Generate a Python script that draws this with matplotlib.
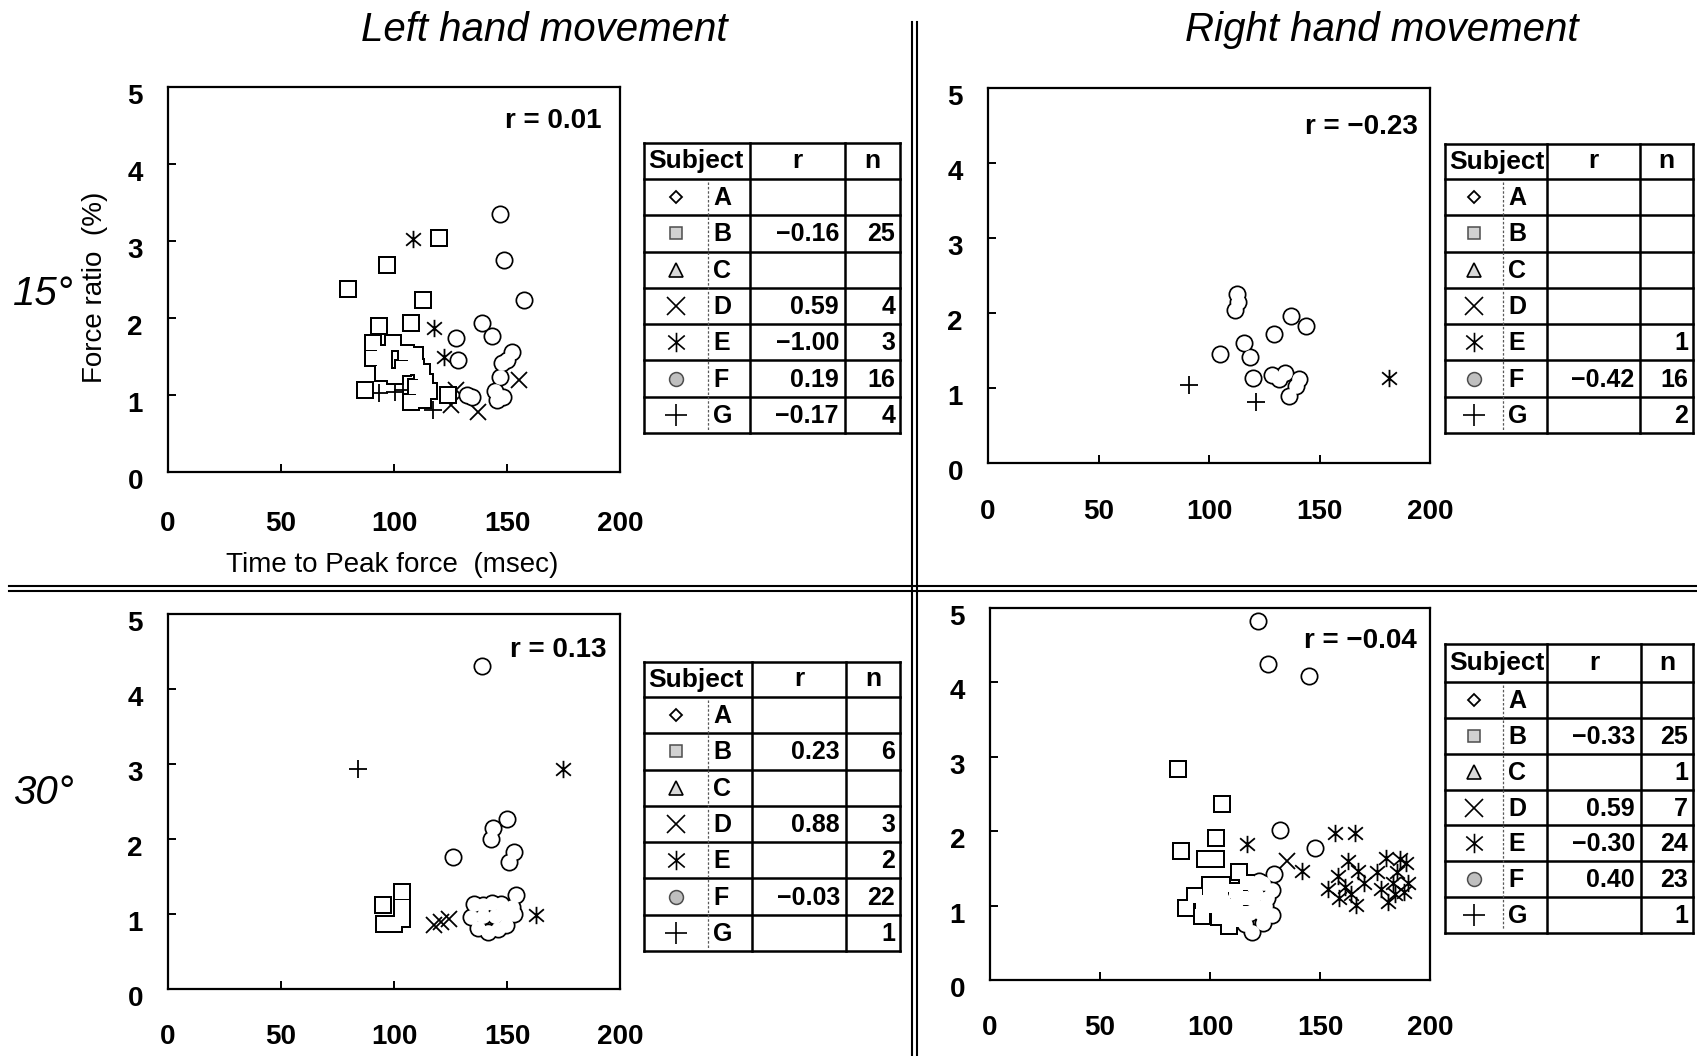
import numpy as np
import matplotlib
matplotlib.use("Agg")
import matplotlib.pyplot as plt
from matplotlib.path import Path
from matplotlib.transforms import ScaledTranslation

W, H = 1697, 1056
plt.rcParams['font.family'] = ['Liberation Sans', 'DejaVu Sans']

SUBJECTS = ['A', 'B', 'C', 'D', 'E', 'F', 'G']
X_TICKS = [0, 50, 100, 150, 200]
Y_TICKS = [0, 1, 2, 3, 4, 5]
MINUS = '\u2212'

# ---- points: (time to peak force [msec], force ratio [%]) ----
# 15 deg, left hand
L15_B = [(79.7, 2.38), (96.8, 2.69), (119.9, 3.04), (112.8, 2.23), (107.5, 1.94),
         (93.2, 1.89), (90.8, 1.67), (90.8, 1.48), (95.7, 1.54), (99.4, 1.67), (95.7, 1.40),
         (105.4, 1.54), (109.1, 1.52), (109.8, 1.37), (103.9, 1.35), (95.0, 1.28), (113.5, 1.17),
         (109.8, 1.11), (107.6, 0.91), (112.8, 0.94), (123.9, 1.00), (87.3, 1.07), (100.5, 1.25),
         (112.5, 1.30), (115.5, 1.05)]
L15_D = [(155.5, 1.19), (137.3, 0.78), (127.6, 1.06), (125.4, 0.87)]
L15_E = [(108.3, 3.03), (117.7, 1.87), (122.0, 1.50)]
L15_F = [(146.9, 3.35), (148.8, 2.75), (157.6, 2.24), (127.6, 1.74), (128.4, 1.46), (138.8, 1.93),
         (143.2, 1.76), (152.1, 1.56), (147.7, 1.41), (146.9, 1.24), (145.4, 0.94), (148.4, 0.98),
         (134.3, 0.98), (132.1, 1.00), (150.0, 1.45), (144.5, 1.05)]
L15_G = [(93.5, 1.02), (100.5, 1.04), (103.9, 1.06), (117.2, 0.80)]

# 15 deg, right hand
R15_E = [(181.3, 1.13)]
R15_F = [(112.8, 2.26), (111.6, 2.04), (113.2, 2.15), (104.8, 1.45), (115.7, 1.60), (118.7, 1.42),
         (119.9, 1.14), (129.2, 1.72), (137.2, 1.96), (143.7, 1.83), (128.5, 1.17), (134.5, 1.20),
         (139.5, 1.03), (136.0, 0.90), (131.5, 1.12), (140.5, 1.12)]
R15_G = [(91.0, 1.04), (121.4, 0.82)]

# 30 deg, left hand
L30_B = [(103.5, 1.30), (95.0, 1.12), (103.5, 0.93), (95.5, 0.87), (100.0, 0.87), (103.5, 1.10)]
L30_D = [(117.6, 0.85), (124.2, 0.94), (121.0, 0.90)]
L30_E = [(174.6, 2.94), (162.7, 0.99)]
L30_F = [(139.0, 4.31), (126.0, 1.76), (150.1, 2.27), (144.0, 2.15), (143.0, 2.00), (153.1, 1.83),
         (151.0, 1.70), (153.9, 1.25), (135.3, 1.14), (139.5, 1.12), (143.5, 1.15), (147.5, 1.13),
         (152.0, 1.10), (134.0, 0.96), (137.0, 0.82), (141.5, 0.76), (146.0, 0.80), (149.4, 0.86),
         (153.1, 1.00), (139.5, 0.97), (144.5, 0.98), (149.0, 1.00)]
L30_G = [(84.2, 2.94)]

# 30 deg, right hand
R30_B = [(85.6, 2.83), (105.3, 2.37), (102.7, 1.91), (87.0, 1.74), (97.5, 1.62), (102.5, 1.62),
         (88.9, 0.97), (96.4, 0.86), (108.7, 0.73), (93.2, 1.13), (100.0, 1.28), (105.5, 1.28),
         (113.0, 1.45), (100.0, 1.00), (105.0, 1.10), (110.0, 1.00), (112.0, 1.20), (115.0, 0.90),
         (104.0, 0.85), (97.0, 1.05), (110.0, 0.80), (117.0, 1.30), (100.0, 1.15), (106.0, 0.95),
         (114.0, 1.10)]
R30_C = [(108.0, 1.05)]
R30_D = [(135.0, 1.60), (110.0, 1.10), (115.0, 1.00), (120.0, 1.10), (105.0, 1.00), (125.0, 1.05),
         (100.0, 1.05)]
R30_E = [(117.0, 1.83), (141.7, 1.47), (156.7, 1.98), (165.7, 1.98), (162.7, 1.60), (167.3, 1.47),
         (153.6, 1.22), (161.2, 1.25), (166.4, 1.01), (158.0, 1.40), (164.0, 1.15), (179.9, 1.64),
         (189.0, 1.57), (188.2, 1.18), (177.7, 1.22), (183.0, 1.30), (180.7, 1.05), (185.0, 1.45),
         (190.0, 1.30), (158.5, 1.10), (176.0, 1.45), (170.0, 1.30), (184.0, 1.15), (186.5, 1.62)]
R30_F = [(122.0, 4.82), (126.2, 4.25), (145.0, 4.09), (131.8, 2.01), (147.7, 1.77), (119.2, 0.65),
         (122.3, 1.33), (129.0, 1.42), (128.0, 1.21), (128.0, 0.87), (124.0, 0.77), (125.0, 1.00),
         (121.0, 1.15), (118.0, 0.90), (120.0, 1.25), (124.0, 1.30), (116.0, 0.75), (112.0, 1.05),
         (121.0, 1.00), (126.0, 1.10), (118.0, 1.10), (123.0, 0.90), (114.0, 0.80)]
R30_G = [(118.0, 1.05)]

# overall r per panel
R_ALL = ['0.01', MINUS + '0.23', '0.13', MINUS + '0.04']

# per-subject table values (A..G)
TAB_R_L15 = ['', MINUS + '0.16', '', '0.59', MINUS + '1.00', '0.19', MINUS + '0.17']
TAB_N_L15 = ['', '25', '', '4', '3', '16', '4']
TAB_R_R15 = ['', '', '', '', '', MINUS + '0.42', '']
TAB_N_R15 = ['', '', '', '', '1', '16', '2']
TAB_R_L30 = ['', '0.23', '', '0.88', '', MINUS + '0.03', '']
TAB_N_L30 = ['', '6', '', '3', '2', '22', '1']
TAB_R_R30 = ['', MINUS + '0.33', '', '0.59', MINUS + '0.30', '0.40', '']
TAB_N_R30 = ['', '25', '1', '7', '24', '23', '1']

# ---- markers ----
ASTER = Path([(0, -1), (0, 1), (-0.85, -0.72), (0.85, 0.72), (-0.85, 0.72), (0.85, -0.72)],
             [Path.MOVETO, Path.LINETO] * 3)
MARKERS = {'A': 'D', 'B': 's', 'C': '^', 'D': 'x', 'E': ASTER, 'F': 'o', 'G': '+'}
SIZE = {'A': 9, 'B': 10.5, 'C': 11, 'D': 12, 'E': 12.5, 'F': 10.5, 'G': 12.5}
FILLED = {'A', 'B', 'C', 'F'}
EDGE = 1.25

panels = [
    {'pts': {'B': L15_B, 'D': L15_D, 'E': L15_E, 'F': L15_F, 'G': L15_G},
     'box': (168, 87, 620, 472), 'rpos': (0.96, 0.912), 'xpad': 28,
     'tab': (644, 143, 179, 433, 708, 750, 845, 900), 'tr': TAB_R_L15, 'tn': TAB_N_L15},
    {'pts': {'E': R15_E, 'F': R15_F, 'G': R15_G},
     'box': (988, 88, 1430, 463), 'rpos': (0.973, 0.896), 'xpad': 26,
     'tab': (1445, 144, 179, 433, 1503, 1547, 1640, 1693), 'tr': TAB_R_R15, 'tn': TAB_N_R15},
    {'pts': {'B': L30_B, 'D': L30_D, 'E': L30_E, 'F': L30_F, 'G': L30_G},
     'box': (168, 614, 620, 989), 'rpos': (0.971, 0.904), 'xpad': 25.5,
     'tab': (644, 662, 697, 951, 708, 752, 846, 900), 'tr': TAB_R_L30, 'tn': TAB_N_L30},
    {'pts': {'B': R30_B, 'C': R30_C, 'D': R30_D, 'E': R30_E, 'F': R30_F, 'G': R30_G},
     'box': (990, 608, 1430, 980), 'rpos': (0.97, 0.911), 'xpad': 25.5,
     'tab': (1445, 644, 682, 933, 1503, 1547, 1641, 1693), 'tr': TAB_R_R30, 'tn': TAB_N_R30},
]

fig = plt.figure(figsize=(W / 100, H / 100), dpi=100)
ov = fig.add_axes([0, 0, 1, 1], zorder=0)
ov.set_xlim(0, W)
ov.set_ylim(H, 0)
ov.axis('off')


def draw_points(ax, pts):
    for s in SUBJECTS:
        if s not in pts:
            continue
        xs = [p[0] for p in pts[s]]
        ys = [p[1] for p in pts[s]]
        m = MARKERS[s]
        if s in FILLED:
            # black outline layer first, white body on top -> merged outlines
            ax.plot(xs, ys, ls='none', marker=m, ms=SIZE[s] + 2 * EDGE, mfc='k', mec='k', mew=0, zorder=2)
            ax.plot(xs, ys, ls='none', marker=m, ms=SIZE[s], mfc='w', mec='w', mew=0, zorder=4)
        else:
            ax.plot(xs, ys, ls='none', marker=m, ms=SIZE[s], mfc='none', mec='k', mew=1.3, zorder=3)


def draw_table(box, rvals, nvals):
    left, top, head, bottom, dash, c1, c2, right = box
    rows = np.linspace(head, bottom, 8)
    lw = 1.8
    for y in [top] + list(rows):
        ov.plot([left, right], [y, y], color='k', lw=lw, solid_capstyle='projecting')
    for x in [left, c1, c2, right]:
        ov.plot([x, x], [top, bottom], color='k', lw=lw, solid_capstyle='projecting')
    ov.plot([dash, dash], [head + 3, bottom - 3], color='0.35', lw=0.9, ls=(0, (2, 1.5)))
    hy = (top + head) / 2
    ov.text(left + 4, hy, 'Subject', fontsize=19, weight='bold', ha='left', va='center')
    ov.text((c1 + c2) / 2, hy, 'r', fontsize=19, weight='bold', ha='center', va='center')
    ov.text((c2 + right) / 2, hy, 'n', fontsize=19, weight='bold', ha='center', va='center')
    sym = {'A': dict(marker='D', ms=6.5, mfc='w', mec='k', mew=1.3),
           'B': dict(marker='s', ms=9, mfc='0.82', mec='0.3', mew=1.1),
           'C': dict(marker='^', ms=10, mfc='0.85', mec='k', mew=1.2),
           'D': dict(marker='x', ms=13, mec='k', mew=1.2),
           'E': dict(marker=ASTER, ms=14, mfc='none', mec='k', mew=1.2),
           'F': dict(marker='o', ms=10, mfc='0.75', mec='0.3', mew=1.1),
           'G': dict(marker='+', ms=16, mec='k', mew=1.2)}
    for i, s in enumerate(SUBJECTS):
        cy = (rows[i] + rows[i + 1]) / 2
        ov.plot([(left + dash) / 2], [cy], ls='none', **sym[s])
        ov.text(dash + 5, cy + 1, s, fontsize=18, weight='bold', ha='left', va='center')
        ov.text(c2 - 6, cy + 1, rvals[i], fontsize=18, weight='bold', ha='right', va='center')
        ov.text(right - 5, cy + 1, nvals[i], fontsize=18, weight='bold', ha='right', va='center')


for p, r in zip(panels, R_ALL):
    l, t, rgt, b = p['box']
    ax = fig.add_axes([l / W, 1 - b / H, (rgt - l) / W, (b - t) / H], zorder=2)
    ax.set_xlim(0, 200)
    ax.set_ylim(0, 5)
    ax.set_xticks(X_TICKS)
    ax.set_yticks(Y_TICKS)
    ax.set_xticklabels([str(v) for v in X_TICKS])
    ax.set_yticklabels([str(v) for v in Y_TICKS])
    for sp in ax.spines.values():
        sp.set_linewidth(1.6)
    ax.tick_params(direction='in', length=6, width=1.4, labelsize=20, top=False, right=False)
    ax.tick_params(axis='x', pad=p['xpad'])
    ax.tick_params(axis='y', pad=18)
    off = ScaledTranslation(0, -7 / 100, fig.dpi_scale_trans)
    for lab in ax.get_xticklabels() + ax.get_yticklabels():
        lab.set_fontweight('bold')
    for lab in ax.get_yticklabels():
        lab.set_transform(lab.get_transform() + off)
    draw_points(ax, p['pts'])
    ax.text(p['rpos'][0], p['rpos'][1], 'r = ' + r, transform=ax.transAxes,
            fontsize=20, weight='bold', ha='right', va='center')
    draw_table(p['tab'], p['tr'], p['tn'])

# titles and row labels
ov.text(544, 30, 'Left hand movement', fontsize=29, style='italic', ha='center', va='center')
ov.text(1382, 30, 'Right hand movement', fontsize=29, style='italic', ha='center', va='center')
ov.text(43, 294, '15\u00b0', fontsize=29, style='italic', ha='center', va='center')
ov.text(43, 793, '30\u00b0', fontsize=29, style='italic', ha='center', va='center')
ov.text(95, 287, 'Force ratio  (%)', fontsize=20, rotation=90, ha='center', va='center')
ov.text(392, 565, 'Time to Peak force  (msec)', fontsize=20, ha='center', va='center')

# double separators between the four quadrants
for y in (586, 591):
    ov.plot([9, W], [y, y], color='k', lw=1.5)
for x in (912, 917):
    ov.plot([x, x], [22, H], color='k', lw=1.5)

fig.savefig('out.png', dpi=100)
